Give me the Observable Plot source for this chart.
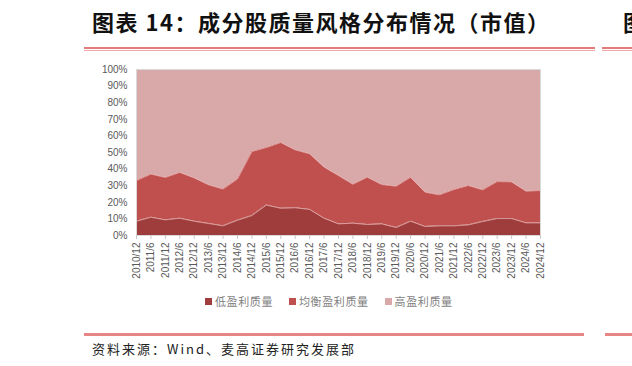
<!DOCTYPE html>
<html><head><meta charset="utf-8">
<script src="https://cdn.jsdelivr.net/npm/d3@7"></script>
<script src="https://cdn.jsdelivr.net/npm/@observablehq/plot@0.6"></script>
<style>
body{margin:0;background:#fff;}
#page{position:relative;width:632px;height:366px;overflow:hidden;background:#fff;font-family:"Noto Sans CJK SC",sans-serif;}
#title{position:absolute;left:92px;top:6px;font-size:22px;font-weight:bold;color:#111;white-space:nowrap;line-height:30px;letter-spacing:1.5px;}
#title2{position:absolute;left:623px;top:6px;font-size:22px;font-weight:bold;color:#111;white-space:nowrap;line-height:30px;width:9px;overflow:hidden;}
.rl{position:absolute;}
#chart{position:absolute;left:0;top:55px;}
#legend{position:absolute;left:205px;top:293px;display:flex;align-items:center;font-size:11px;color:#7f7f7f;letter-spacing:0.6px;white-space:nowrap;}
#legend .it{display:flex;align-items:center;margin-right:16px;}
#legend .sw{width:7px;height:7px;margin-right:3px;}
#source{position:absolute;left:92px;top:340px;font-size:13px;color:#222;white-space:nowrap;line-height:18px;letter-spacing:2px;}
</style></head>
<body><div id="page">
<div id="title">图表 14：成分股质量风格分布情况（市值）</div>
<div id="title2">图</div>
<div class="rl" style="left:84px;top:47px;width:511px;height:2px;background:#E57A7A"></div>
<div class="rl" style="left:84px;top:50px;width:511px;height:1px;background:#F0A8A8"></div>
<div class="rl" style="left:602px;top:47px;width:40px;height:2px;background:#E57A7A"></div>
<div class="rl" style="left:602px;top:50px;width:40px;height:1px;background:#F0A8A8"></div>
<div id="chart"></div>
<div id="legend"></div>
<div class="rl" style="left:84px;top:333px;width:500px;height:3px;background:#E88585"></div>
<div class="rl" style="left:605px;top:333px;width:40px;height:3px;background:#E88585"></div>
<div id="source">资料来源：Wind、麦高证券研究发展部</div>
</div>
<script>
const labels = ["2010/12","2011/6","2011/12","2012/6","2012/12","2013/6","2013/12","2014/6","2014/12","2015/6","2015/12","2016/6","2016/12","2017/6","2017/12","2018/6","2018/12","2019/6","2019/12","2020/6","2020/12","2021/6","2021/12","2022/6","2022/12","2023/6","2023/12","2024/6","2024/12"];
const series = ["低盈利质量","均衡盈利质量","高盈利质量"];
const colors = ["#9E3D3C","#C0504E","#D9A8A9"];
const lowQ = [8.6,11,9.4,10.4,8.6,7.2,5.8,9.2,12,18.3,16.4,16.7,15.7,10.4,7,7.4,6.6,7,4.8,8.6,5.4,5.8,5.8,6.4,8.4,10.2,10.2,7.6,7.6];
const midQ = [24.5,26,25.6,27.6,26.1,23.3,22.2,24.8,38.6,34.7,39.6,34.9,33.5,30.8,29.1,23.5,28.5,23.7,24.9,26.5,20.7,18.7,21.9,23.7,19.1,22.3,22.1,19.1,19.5];
const highQ = [66.9,63,65,62,65.3,69.5,72,66,49.4,47,44,48.4,50.8,58.8,63.9,69.1,64.9,69.3,70.3,64.9,73.9,75.5,72.3,69.9,72.5,67.5,67.7,73.3,72.9];
const yTicks = [0,10,20,30,40,50,60,70,80,90,100];

const vals = [lowQ, midQ, highQ];
const data = [];
series.forEach((s,k)=>vals[k].forEach((v,i)=>data.push({i, v, s})));
const idx = labels.map((_,i)=>i);

const chart = Plot.plot({
  width: 632, height: 240,
  marginTop: 14, marginBottom: 60, marginLeft: 136, marginRight: 92,
  style: {fontFamily: "'Liberation Sans', Arial, sans-serif", fontSize: "10px", color: "#595959", background: "transparent"},
  x: {type: "linear", domain: [0, labels.length - 1], label: null},
  y: {domain: [0, 100], label: null},
  color: {domain: series, range: colors},
  marks: [
    Plot.areaY(data, {x: "i", y: "v", z: "s", fill: "s", order: series}),
    Plot.lineY(data, Plot.stackY2({x: "i", y: "v", z: "s", order: series, stroke: "#e7b3b3", strokeWidth: 0.8, strokeOpacity: d => d.s === series[2] ? 0 : 1})),
    Plot.frame({stroke: "#d9d9d9", strokeWidth: 1}),
    Plot.axisY({ticks: yTicks, tickFormat: d => d + "%", tickSize: 0, tickPadding: 9, fill: "#595959"}),
    Plot.axisX({ticks: idx, tickFormat: i => labels[i], tickRotate: -90, tickSize: 4, tickPadding: 3, stroke: "#c8c8c8", fill: "#595959"})
  ]
});
document.getElementById("chart").appendChild(chart);

const lg = document.getElementById("legend");
series.forEach((s,k)=>{
  const it = document.createElement("div"); it.className = "it";
  const sw = document.createElement("div"); sw.className = "sw"; sw.style.background = colors[k];
  const tx = document.createElement("span"); tx.textContent = s;
  it.appendChild(sw); it.appendChild(tx); lg.appendChild(it);
});
</script>
</body></html>
